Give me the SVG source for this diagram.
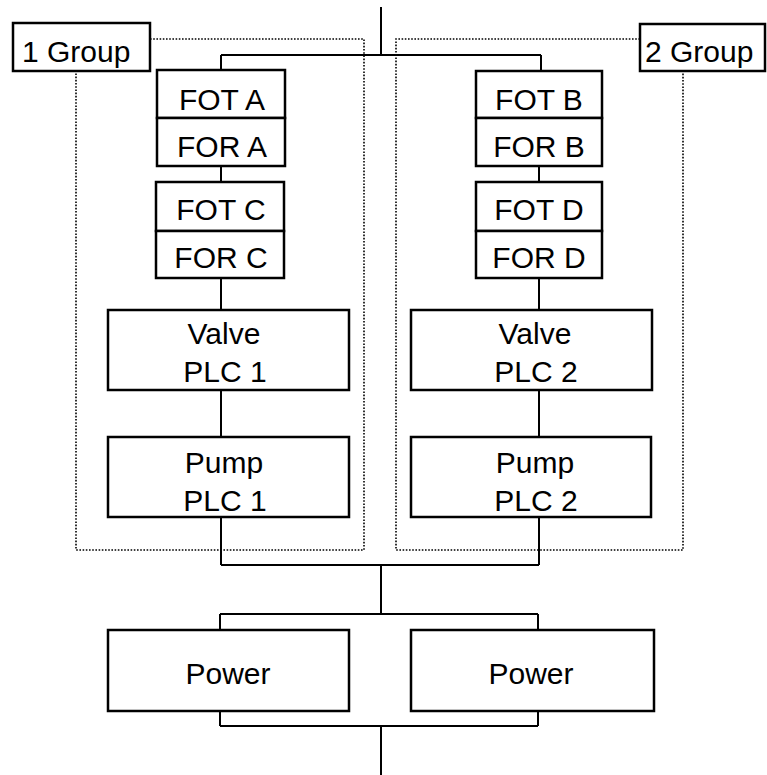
<svg xmlns="http://www.w3.org/2000/svg" width="767" height="775" viewBox="0 0 767 775">
<style>
.box{fill:#fff;stroke:#000;stroke-width:2.5}
.t{font-family:"Liberation Sans",Arial,sans-serif;font-size:30px;fill:#000;text-anchor:middle}
.tl{font-family:"Liberation Sans",Arial,sans-serif;font-size:30px;fill:#000}
.ln{fill:none;stroke:#000;stroke-width:2}
.dot{fill:none;stroke:#000;stroke-width:1.6;stroke-dasharray:1.6 1.6}
</style>
<rect width="767" height="775" fill="#fff"/>
<g id="groups">
<path class="dot" d="M150,39 H364 V550 H76 V71"/>
<path class="dot" d="M640,39 H396 V550 H683 V71"/>
</g>
<g id="connectors">
<path class="ln" d="M381,7 V55 M221,55 H541 M221,55 V70 M541,55 V71"/>
<path class="ln" d="M221,166 V182 M221,278 V310 M221,390 V437 M221,517 V565"/>
<path class="ln" d="M539,166 V182 M539,278 V310 M539,390 V437 M539,517 V565"/>
<path class="ln" d="M221,565 H539 M381,565 V614 M220,614 H538 M220,614 V630 M538,614 V630"/>
<path class="ln" d="M220,711 V726 M538,711 V726 M220,726 H538 M381,726 V775"/>
</g>
<g id="group1-label"><rect class="box" x="13" y="23" width="137" height="48"/><text class="tl" x="22" y="62">1 Group</text></g>
<g id="group2-label"><rect class="box" x="640" y="24" width="125" height="47"/><text class="tl" x="645" y="62">2 Group</text></g>
<g id="fot-a"><rect class="box" x="157" y="70" width="128" height="48"/><text class="t" x="222" y="110">FOT A</text></g>
<g id="for-a"><rect class="box" x="157" y="118" width="128" height="48"/><text class="t" x="222" y="157">FOR A</text></g>
<g id="fot-c"><rect class="box" x="156" y="182" width="128" height="49"/><text class="t" x="221" y="220">FOT C</text></g>
<g id="for-c"><rect class="box" x="156" y="231" width="128" height="47"/><text class="t" x="221" y="268">FOR C</text></g>
<g id="fot-b"><rect class="box" x="476" y="71" width="126" height="47"/><text class="t" x="539" y="110">FOT B</text></g>
<g id="for-b"><rect class="box" x="476" y="118" width="126" height="48"/><text class="t" x="539" y="157">FOR B</text></g>
<g id="fot-d"><rect class="box" x="476" y="182" width="126" height="49"/><text class="t" x="539" y="220">FOT D</text></g>
<g id="for-d"><rect class="box" x="476" y="231" width="126" height="47"/><text class="t" x="539" y="268">FOR D</text></g>
<g id="valve-plc1"><rect class="box" x="108" y="310" width="241" height="80"/><text class="t" x="224" y="344">Valve</text><text class="t" x="225" y="382">PLC 1</text></g>
<g id="valve-plc2"><rect class="box" x="411" y="310" width="241" height="80"/><text class="t" x="535" y="344">Valve</text><text class="t" x="536" y="382">PLC 2</text></g>
<g id="pump-plc1"><rect class="box" x="108" y="437" width="241" height="80"/><text class="t" x="224" y="473">Pump</text><text class="t" x="225" y="511">PLC 1</text></g>
<g id="pump-plc2"><rect class="box" x="411" y="437" width="240" height="80"/><text class="t" x="535" y="473">Pump</text><text class="t" x="536" y="511">PLC 2</text></g>
<g id="power1"><rect class="box" x="108" y="630" width="241" height="81"/><text class="t" x="228" y="684">Power</text></g>
<g id="power2"><rect class="box" x="411" y="630" width="243" height="81"/><text class="t" x="531" y="684">Power</text></g>
</svg>
